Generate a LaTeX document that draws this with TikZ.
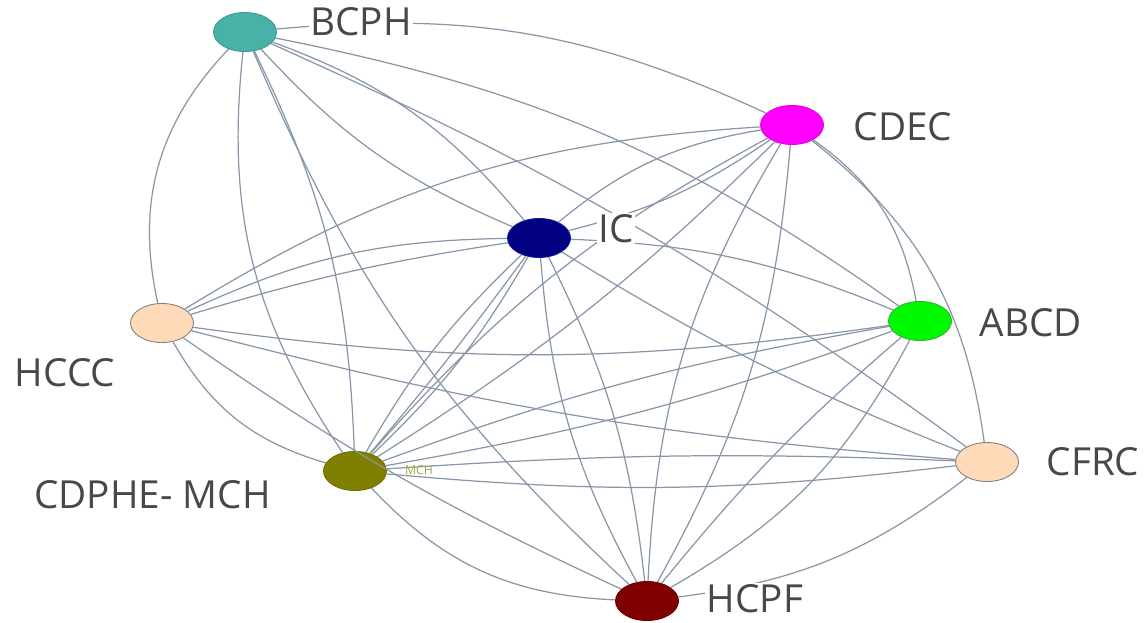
\documentclass[tikz,border=0pt]{standalone}
\usepackage{fontspec}
\setmainfont{Open Sans}
\usetikzlibrary{shapes.geometric}
\begin{document}
\begin{tikzpicture}[
  nd/.style={ellipse, minimum width=1.26cm, minimum height=0.78cm, inner sep=0pt, line width=0.5pt},
  edge/.style={draw={rgb,255:red,135;green,150;blue,168}, line width=0.7pt},
  lbl/.style={font=\fontsize{22}{26}\selectfont, text={rgb,255:red,72;green,72;blue,72}, fill=white, inner sep=1pt},
]
\useasboundingbox (0,0) rectangle (22.96,-12.44);
\definecolor{teal1}{RGB}{72,178,168}
\definecolor{peach}{RGB}{255,218,185}
\definecolor{mag}{RGB}{255,0,255}
% nodes
\node[nd, fill=teal1, draw=teal1!85!black] (B) at (4.9,-0.64) {};
\node[nd, fill=mag, draw=mag!85!black] (C) at (15.84,-2.5) {};
\node[nd, fill={rgb,255:red,0;green,0;blue,128}, draw={rgb,255:red,20;green,20;blue,160}] (I) at (10.78,-4.76) {};
\node[nd, fill={rgb,255:red,0;green,250;blue,0}, draw={rgb,255:red,40;green,180;blue,40}] (A) at (18.4,-6.42) {};
\node[nd, fill=peach, draw=gray] (H) at (3.24,-6.46) {};
\node[nd, fill=peach, draw=gray] (F) at (19.74,-9.24) {};
\node[nd, fill={rgb,255:red,128;green,128;blue,0}, draw={rgb,255:red,110;green,110;blue,0}] (M) at (7.1,-9.42) {};
\node[nd, fill={rgb,255:red,128;green,0;blue,0}, draw={rgb,255:red,100;green,0;blue,0}] (P) at (12.94,-12.02) {};
% edges
\draw[edge] (B) to[bend left=15] (C);
\draw[edge] (B) to[bend left=15] (I);
\draw[edge] (B) to[bend right=12] (I);
\draw[edge] (B) to[bend left=12] (A);
\draw[edge] (B) to[bend left=6] (F);
\draw[edge] (B) to[bend right=28] (H);
\draw[edge] (B) to[bend right=20] (M);
\draw[edge] (B) to[bend left=12] (M);
\draw[edge] (B) to[bend right=12] (P);
\draw[edge] (C) to[bend right=15] (I);
\draw[edge] (C) to[bend left=10] (I);
\draw[edge] (C) to[bend left=22] (A);
\draw[edge] (C) to[bend left=22] (F);
\draw[edge] (C) to[bend right=14] (H);
\draw[edge] (C) to[bend right=10] (M);
\draw[edge] (C) to[bend left=6] (M);
\draw[edge] (C) to[bend right=14] (P);
\draw[edge] (C) to[bend left=12] (P);
\draw[edge] (I) to[bend left=10] (A);
\draw[edge] (I) to[bend right=5] (F);
\draw[edge] (I) to[bend right=12] (H);
\draw[edge] (I) to[bend right=4] (H);
\draw[edge] (I) to[bend left=8] (M);
\draw[edge] (I) to[bend right=8] (M);
\draw[edge] (I) to[bend left=2] (M);
\draw[edge] (I) to[bend left=10] (P);
\draw[edge] (I) to[bend right=12] (P);
\draw[edge] (A) to[bend left=8] (H);
\draw[edge] (A) to[bend left=5] (M);
\draw[edge] (A) to[bend right=5] (M);
\draw[edge] (A) to[bend left=16] (P);
\draw[edge] (A) to[bend right=5] (P);
\draw[edge] (F) to[bend right=3] (M);
\draw[edge] (F) to[bend left=6] (M);
\draw[edge] (F) to[bend left=5] (H);
\draw[edge] (F) to[bend left=15] (P);
\draw[edge] (M) to[bend right=22] (P);
\draw[edge] (M) to[bend left=22] (H);
\draw[edge] (H) to[bend right=5] (P);
% labels
\node[lbl] (lB) at (7.22,-0.44) {BCPH};
\node[lbl] (lC) at (18.06,-2.54) {CDEC};
\node[lbl] (lI) at (12.32,-4.58) {IC};
\node[lbl] (lA) at (20.62,-6.46) {ABCD};
\node[lbl] (lH) at (1.3,-7.46) {HCCC};
\node[lbl] (lF) at (21.86,-9.24) {CFRC};
\node[lbl] (lM) at (3.05,-9.9) {CDPHE- MCH};
\node[lbl] (lP) at (15.1,-11.98) {HCPF};
\node[font=\fontsize{7}{8}\selectfont, text={rgb,255:red,165;green,165;blue,70}, inner sep=1pt] (sM) at (8.38,-9.4) {MCH};
\end{tikzpicture}
\end{document}
